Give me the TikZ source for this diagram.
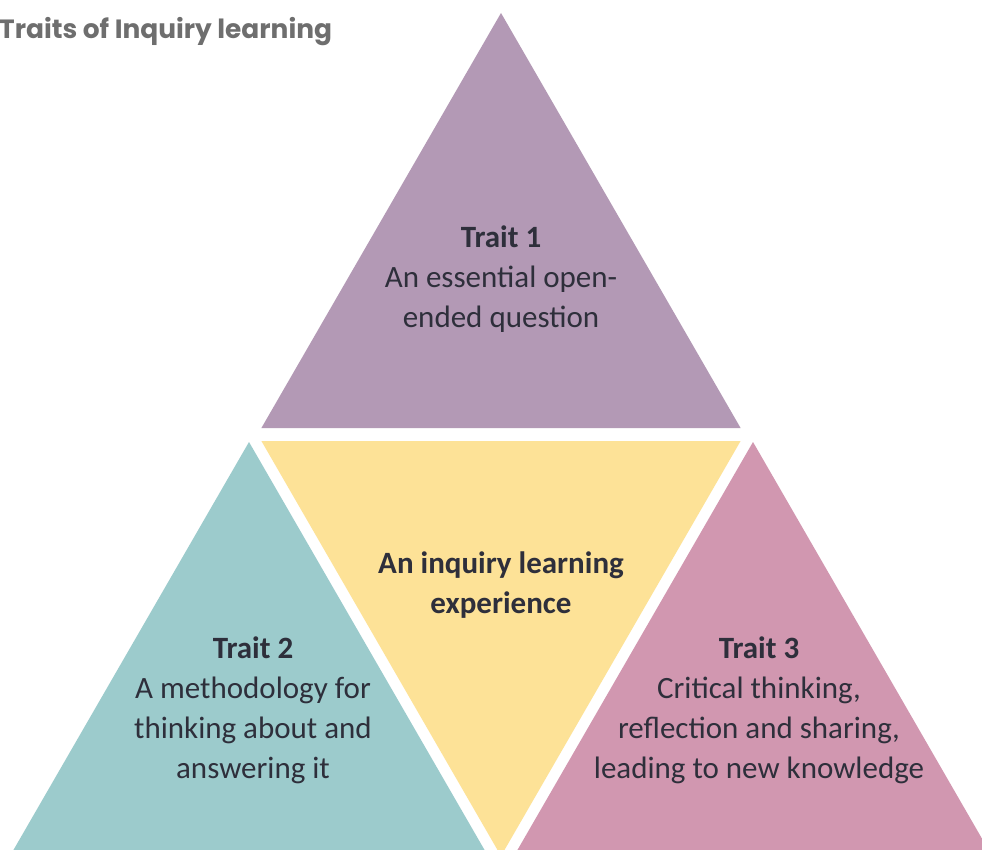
\documentclass[tikz,border=0pt]{standalone}
\usepackage{fontspec}
\setmainfont{Carlito}
\newfontfamily\titlefont{Poppins}
\definecolor{tpurple}{HTML}{B399B5}
\definecolor{tyellow}{HTML}{FDE297}
\definecolor{tteal}{HTML}{9CCBCC}
\definecolor{tpink}{HTML}{D197B0}
\definecolor{ttext}{HTML}{2E2F3B}
\definecolor{ttitle}{HTML}{6E6E6E}
\tikzset{
  tri/.style={draw=none},
  blocktext/.style={align=center, text=ttext, inner sep=0pt, font=\fontsize{31}{40}\selectfont},
}
\begin{document}
\begin{tikzpicture}[x=1pt,y=-1pt]
\useasboundingbox (0,0) rectangle (982,850);
\clip (0,0) rectangle (982,850);
\fill[white] (0,0) rectangle (982,850);
% top triangle
\fill[tpurple] (501,13) -- (740.6,428) -- (261.4,428) -- cycle;
% middle inverted triangle
\fill[tyellow] (261.4,441) -- (740.6,441) -- (501,856) -- cycle;
% bottom left
\fill[tteal] (249,442) -- (488.6,857) -- (9.4,857) -- cycle;
% bottom right
\fill[tpink] (753,442) -- (992.6,857) -- (513.4,857) -- cycle;
% title
\node[anchor=west, inner sep=0pt, text=ttitle, font=\titlefont\bfseries\fontsize{26.4}{30}\selectfont] (title) at (-1,32) {Traits of Inquiry learning};
% texts
\node[blocktext] (t1) at (501,279.5) {\textbf{Trait 1}\\An essential open-\\ended question};
\node[blocktext] (tc) at (501,585) {\textbf{An inquiry learning}\\\textbf{experience}};
\node[blocktext] (t2) at (253,710) {\textbf{Trait 2}\\A methodology for\\thinking about and\\answering it};
\node[blocktext] (t3) at (759,710) {\textbf{Trait 3}\\Critical thinking,\\reflection and sharing,\\leading to new knowledge};
\end{tikzpicture}
\end{document}
